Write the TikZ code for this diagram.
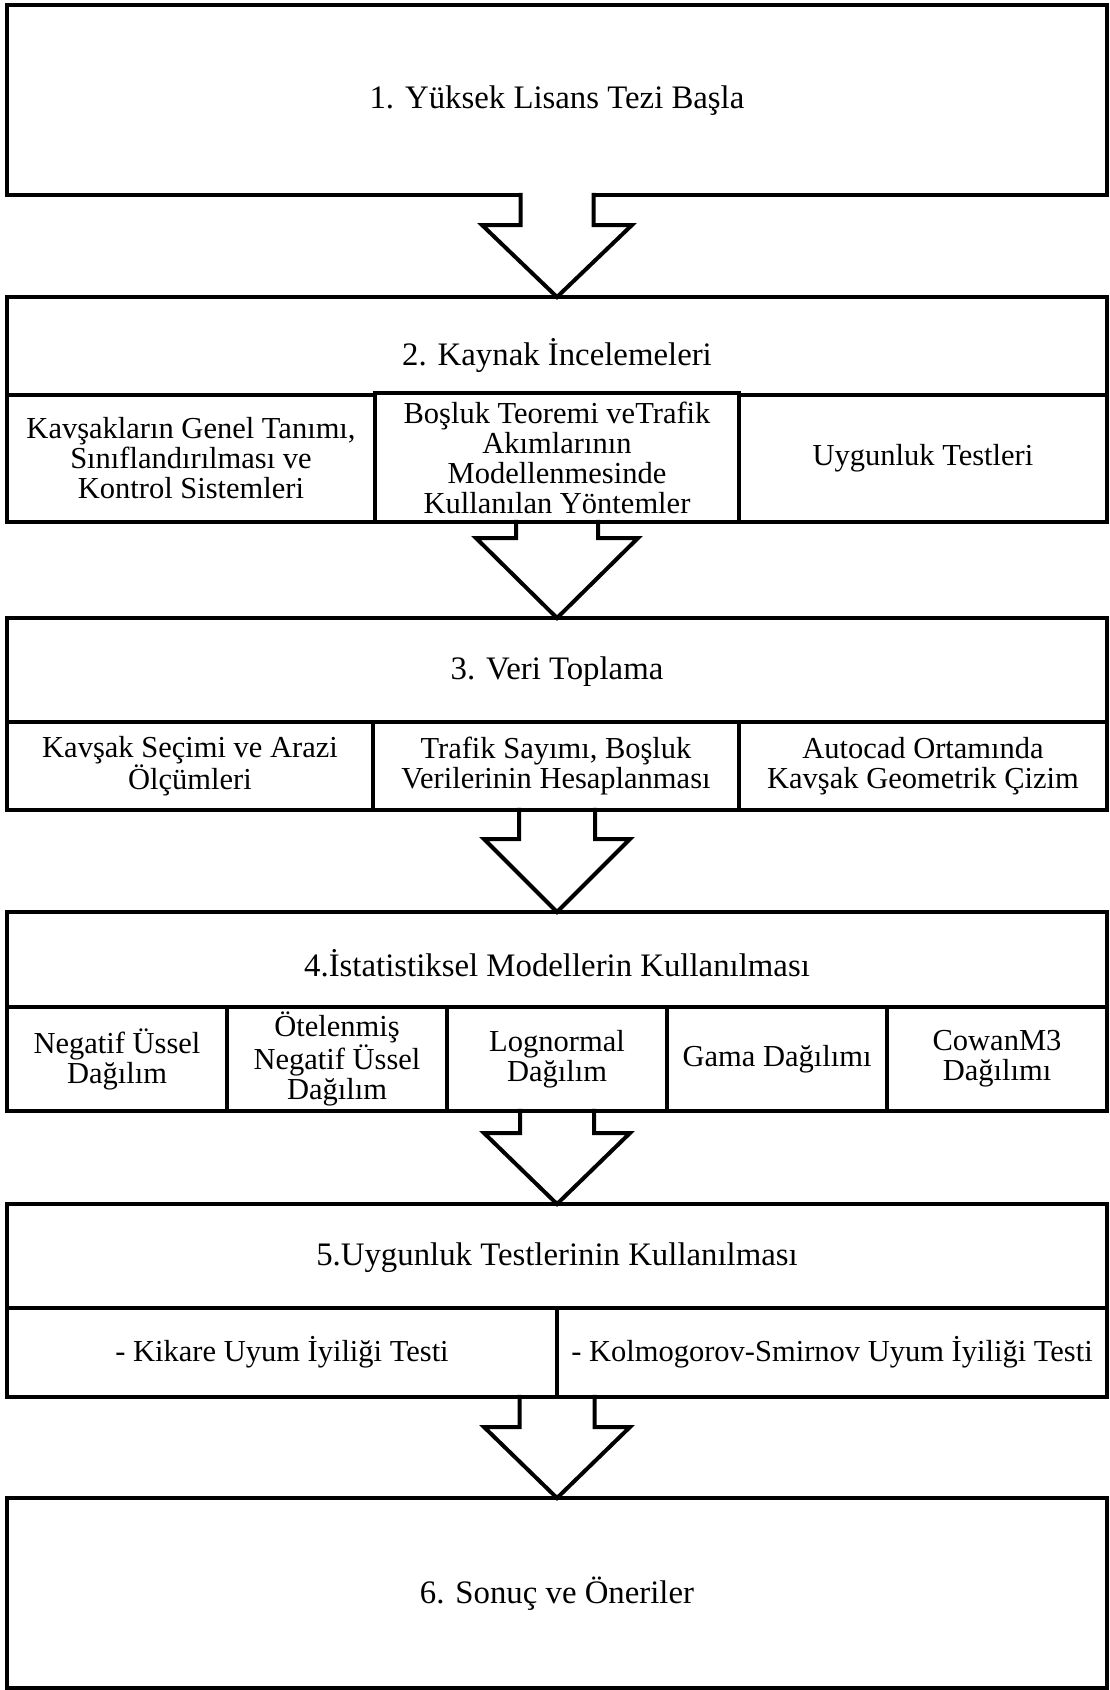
\documentclass[tikz,border=0pt]{standalone}
\usepackage{fontspec}
\setmainfont{Liberation Serif}
\usetikzlibrary{calc}
\tikzset{
  frame/.style={draw, line width=4.5pt, minimum width=1100pt, outer sep=0pt, inner sep=0pt, anchor=north},
  cell/.style={draw, line width=3.8pt, outer sep=0pt, inner sep=0pt, align=center, anchor=north west,
    font=\fontsize{30.5}{30}\selectfont},
  lbl/.style={align=center, inner sep=0pt, font=\fontsize{32.8}{34}\selectfont},
  arrowline/.style={line width=4pt, line join=miter},
}
% #1 from node, #2 to node, #3 shaft half width, #4 head half width, #5 shaft length,
% #6 top of the white fill (3 = open the box line, -2.25 = keep it)
\newcommand{\blkarrow}[6]{%
  \fill[white] ($(#1.south)+(-#3,#6)$) -- ($(#1.south)+(-#3,-#5)$) -- ($(#1.south)+(-#4,-#5)$)
     -- (#2.north) -- ($(#1.south)+(#4,-#5)$) -- ($(#1.south)+(#3,-#5)$) -- ($(#1.south)+(#3,#6)$) -- cycle;
  \draw[arrowline] ($(#1.south)+(-#3,2.25)$) -- ($(#1.south)+(-#3,-#5)$) -- ($(#1.south)+(-#4,-#5)$)
     -- (#2.north) -- ($(#1.south)+(#4,-#5)$) -- ($(#1.south)+(#3,-#5)$) -- ($(#1.south)+(#3,2.25)$);
}
\begin{document}
\begin{tikzpicture}[x=1pt,y=1pt]
\useasboundingbox (0,0) rectangle (1109,-1690);
\fill[white] (0,0) rectangle (1109,-1690);

% ---- Box 1
\node[frame, minimum height=190pt] (b1) at (557,-5) {};
\node[lbl] (t1) at (557,-101) {1. Yüksek Lisans Tezi Başla};

% ---- Box 2
\node[cell, minimum width=368pt, minimum height=127pt] (c2a) at (7,-395)
  {Kavşakların Genel Tanımı,\\Sınıflandırılması ve\\Kontrol Sistemleri};
\node[cell, minimum width=368pt, minimum height=127pt] (c2c) at (739,-395) {Uygunluk Testleri};
\node[frame, minimum height=225pt] (b2) at (557,-297) {};
\node[cell, line width=4.5pt, minimum width=364pt, minimum height=129pt] (c2b) at (375,-393)
  {Boşluk Teoremi veTrafik\\Akımlarının\\Modellenmesinde\\Kullanılan Yöntemler};
\node[lbl] (t2) at (557,-355) {2. Kaynak İncelemeleri};

% ---- Box 3
\node[cell, minimum width=366pt, minimum height=88pt] (c3a) at (7,-722)
  {Kavşak Seçimi ve Arazi\\Ölçümleri};
\node[cell, minimum width=366pt, minimum height=88pt] (c3b) at (373,-722)
  {Trafik Sayımı, Boşluk\\Verilerinin Hesaplanması};
\node[cell, minimum width=368pt, minimum height=88pt] (c3c) at (739,-722)
  {Autocad Ortamında\\Kavşak Geometrik Çizim};
\node[frame, minimum height=192pt] (b3) at (557,-618) {};
\node[lbl] (t3) at (557,-672) {3. Veri Toplama};

% ---- Box 4
\node[cell, minimum width=220pt, minimum height=104pt] (c4a) at (7,-1007) {Negatif Üssel\\Dağılım};
\node[cell, minimum width=220pt, minimum height=104pt] (c4b) at (227,-1007) {Ötelenmiş\\Negatif Üssel\\Dağılım};
\node[cell, minimum width=220pt, minimum height=104pt] (c4c) at (447,-1007) {Lognormal\\Dağılım};
\node[cell, minimum width=220pt, minimum height=104pt] (c4d) at (667,-1007) {Gama Dağılımı};
\node[cell, minimum width=220pt, minimum height=104pt] (c4e) at (887,-1007) {CowanM3\\Dağılımı};
\node[frame, minimum height=199pt] (b4) at (557,-912) {};
\node[lbl] (t4) at (557,-963) {4.İstatistiksel Modellerin Kullanılması};

% ---- Box 5
\node[cell, minimum width=550pt, minimum height=89pt] (c5a) at (7,-1308) {- Kikare Uyum İyiliği Testi};
\node[cell, minimum width=550pt, minimum height=89pt] (c5b) at (557,-1308) {- Kolmogorov-Smirnov Uyum İyiliği Testi};
\node[frame, minimum height=193pt] (b5) at (557,-1204) {};
\node[lbl] (t5) at (557,-1258) {5.Uygunluk Testlerinin Kullanılması};

% ---- Box 6
\node[frame, minimum height=190pt] (b6) at (557,-1498) {};
\node[lbl] (t6) at (557,-1594) {6. Sonuç ve Öneriler};

% ---- Block arrows
\blkarrow{b1}{b2}{36.5}{75}{30}{3}
\blkarrow{b2}{b3}{41}{81}{16}{-2.25}
\blkarrow{b3}{b4}{38}{73}{29}{-2.25}
\blkarrow{b4}{b5}{37}{73}{22}{-2.25}
\blkarrow{b5}{b6}{37.5}{73}{30}{-2.25}
\end{tikzpicture}
\end{document}
